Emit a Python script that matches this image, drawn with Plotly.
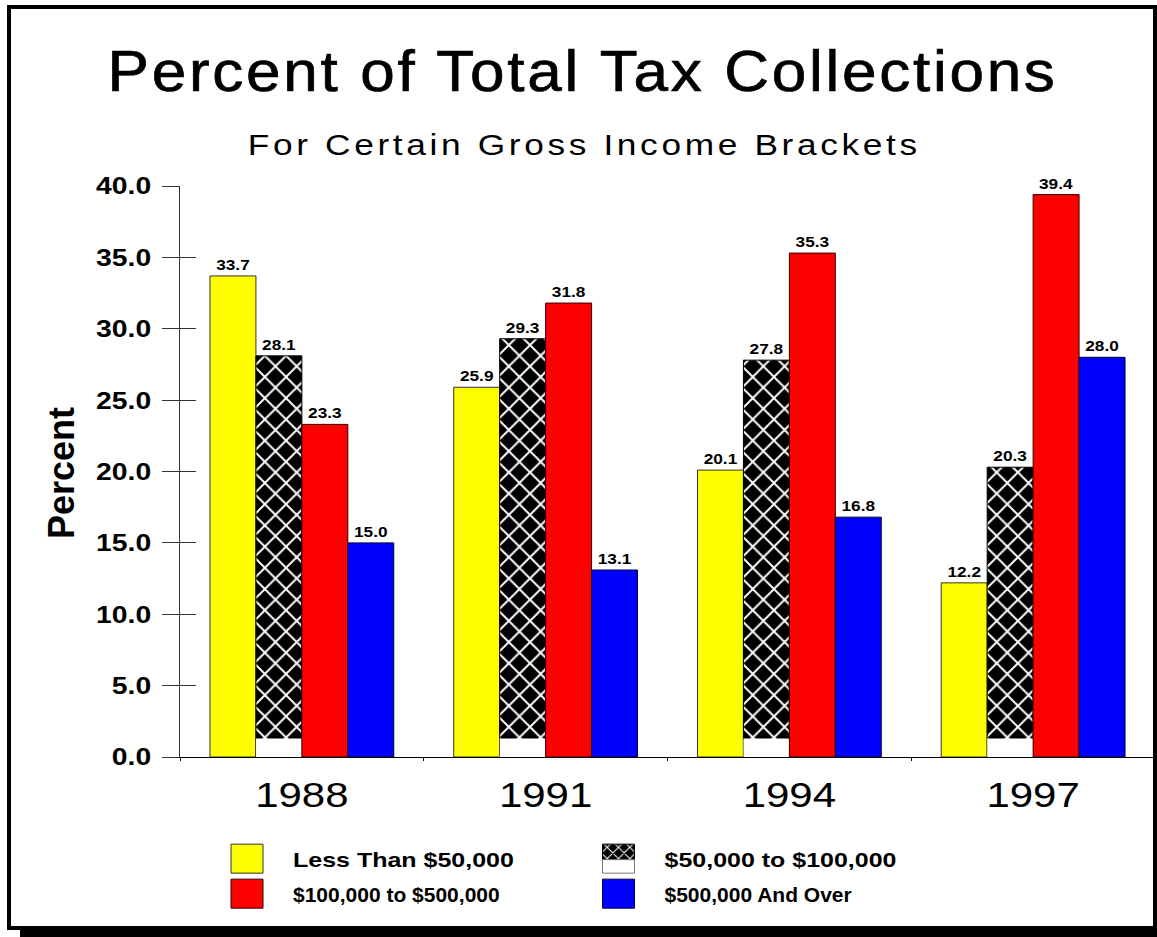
import plotly.graph_objects as go

# ---- data -------------------------------------------------------------
years = ["1988", "1991", "1994", "1997"]
less_than_50k = [33.7, 25.9, 20.1, 12.2]
from_50k_to_100k = [28.1, 29.3, 27.8, 20.3]
from_100k_to_500k = [23.3, 31.8, 35.3, 39.4]
over_500k = [15.0, 13.1, 16.8, 28.0]
hatch_base_gap = [1.3, 1.3, 1.3, 1.3]

series_names = [
    "Less Than $50,000",
    "$50,000 to $100,000",
    "$100,000 to $500,000",
    "$500,000 And Over",
]
y_ticks = [0, 5, 10, 15, 20, 25, 30, 35, 40]

# ---- geometry -----------------------------------------------------------
W, H = 1157, 937
ML, MR, MT, MB = 180, 2, 186, 180
PW, PH = W - ML - MR, H - MT - MB


def px(x):
    return (x - ML) / PW


def py(y):
    return (H - MB - y) / PH


FONT = "Liberation Sans, Arial, sans-serif"
group_width = 0.754
bw = group_width / 4
offsets = [-group_width / 2 + i * bw for i in range(4)]

LEG_ITEMWIDTH = 82
LEG_ENTRY = 371.5 - (LEG_ITEMWIDTH + 15)

fig = go.Figure()

bar_specs = [
    (less_than_50k, dict(color="#FFFF00", line=dict(color="#333333", width=1)), "legend"),
    (from_50k_to_100k, dict(color="black",
                            pattern=dict(shape="x", fgcolor="white", bgcolor="black",
                                         size=15, solidity=0.24, fillmode="replace"),
                            line=dict(color="black", width=1)), "legend"),
    (from_100k_to_500k, dict(color="#FF0000", line=dict(color="#330000", width=1)), "legend2"),
    (over_500k, dict(color="#0000FF", line=dict(color="#000033", width=1)), "legend2"),
]

for i, (vals, marker, lg) in enumerate(bar_specs):
    fig.add_trace(go.Bar(
        x=years, y=vals, name=series_names[i], marker=marker,
        width=bw, offset=offsets[i], legend=lg,
        text=[f"{v:.1f}" for v in vals], textposition="outside",
        textfont=dict(family=FONT, size=15, color="black", weight="bold"),
        cliponaxis=False, hoverinfo="skip",
    ))
    if i == 1:
        # white band at the foot of the hatched bars
        fig.add_trace(go.Bar(
            x=years, y=hatch_base_gap, width=bw, offset=offsets[i],
            marker=dict(color="white", line=dict(width=0)),
            showlegend=False, hoverinfo="skip",
        ))

legend_common = dict(
    orientation="h", xanchor="left", yanchor="middle",
    itemwidth=LEG_ITEMWIDTH, entrywidth=LEG_ENTRY,
    font=dict(family=FONT, size=21, color="black", weight="bold"),
    bgcolor="rgba(0,0,0,0)", borderwidth=0,
)

fig.update_layout(
    width=W, height=H,
    margin=dict(l=ML, r=MR, t=MT, b=MB),
    paper_bgcolor="white", plot_bgcolor="white",
    barmode="overlay",
    showlegend=True,
    font=dict(family=FONT, color="black"),
    xaxis=dict(
        type="category", range=[-0.5, 3.5],
        showline=True, linecolor="black", linewidth=1,
        ticks="outside", ticklen=3, tickcolor="black", tickson="boundaries",
        tickfont=dict(family=FONT, size=35, color="black"),
        ticklabelstandoff=7, showgrid=False, zeroline=False,
    ),
    yaxis=dict(
        range=[0, 40], tickvals=y_ticks, tickformat=".1f",
        showline=True, linecolor="#333333", linewidth=1,
        ticks="outside", ticklen=17, tickcolor="#333333",
        tickfont=dict(family=FONT, size=24, color="black", weight="bold"),
        ticklabelstandoff=6, showgrid=False, zeroline=False,
    ),
    yaxis2=dict(
        range=[0, 40], tickvals=y_ticks, overlaying="y", side="left",
        anchor="x", showticklabels=False, showline=False,
        ticks="inside", ticklen=16, tickcolor="#333333",
        showgrid=False, zeroline=False,
    ),
    legend=dict(x=px(201), y=py(859), **legend_common),
    legend2=dict(x=px(201), y=py(894), **legend_common),
)

# invisible trace so the second y axis is laid out
fig.add_trace(go.Scatter(x=[years[0]], y=[None], yaxis="y2", showlegend=False,
                         hoverinfo="skip", mode="markers"))

fig.add_annotation(text="Percent of Total Tax Collections", xref="paper", yref="paper",
                   x=px(582), y=py(70.5), xanchor="center", yanchor="middle",
                   showarrow=False, font=dict(family=FONT, size=57, color="black"))
fig.add_annotation(text="For Certain Gross Income Brackets", xref="paper", yref="paper",
                   x=px(584), y=py(145.5), xanchor="center", yanchor="middle",
                   showarrow=False, font=dict(family=FONT, size=29, color="black"))
fig.add_annotation(text="Percent", xref="paper", yref="paper", textangle=-90,
                   x=px(61), y=py(473), xanchor="center", yanchor="middle",
                   showarrow=False, font=dict(family=FONT, size=36, color="black", weight="bold"))

# page frame with drop shadow
fig.add_shape(type="rect", xref="paper", yref="paper",
              x0=px(20), x1=px(1170), y0=py(929), y1=py(945),
              fillcolor="black", line=dict(width=0), layer="above")
fig.add_shape(type="rect", xref="paper", yref="paper",
              x0=px(9), x1=px(1155), y0=py(7), y1=py(928),
              line=dict(color="black", width=4), fillcolor="rgba(0,0,0,0)", layer="above")

# Text in this chart style is set wide: stretch glyphs horizontally after render.
post = """
var gd = document.getElementById('{plot_id}');
function widen(el, f, ls) {
  if (ls) el.style.letterSpacing = ls;
  var n = el.getComputedTextLength();
  if (n > 0) {
    el.setAttribute('textLength', (n * f).toFixed(1));
    el.setAttribute('lengthAdjust', 'spacingAndGlyphs');
  }
}
function fit(el, len, ls) {
  if (ls) el.style.letterSpacing = ls;
  el.setAttribute('textLength', len);
  el.setAttribute('lengthAdjust', 'spacingAndGlyphs');
}
function each(sel, f, ls) { gd.querySelectorAll(sel).forEach(function (t) { widen(t, f, ls); }); }
each('.xtick text', 1.2);
each('.ytick text', 1.18);
each('.legendtext', 1.19);
each('.bartext', 1.15);
var ann = gd.querySelectorAll('.annotation-text');
if (ann[0]) { fit(ann[0], 950, '2.5px'); ann[0].style.stroke = 'black'; ann[0].style.strokeWidth = '0.7px'; }
if (ann[1]) fit(ann[1], 673, '3px');
gd.querySelectorAll('.legendpoints path').forEach(function (p) {
  p.setAttribute('d', 'M16,14.5H-16V-14.5H16Z');
});
var items = gd.querySelectorAll('g.legend g.traces');
if (items[1]) {
  var hp = items[1].querySelector('.legendpoints path');
  if (hp) {
    hp.setAttribute('d', 'M16,1H-16V-14.5H16Z');
    var w = document.createElementNS('http://www.w3.org/2000/svg', 'path');
    w.setAttribute('d', 'M16,14.5H-16V1H16Z');
    w.setAttribute('transform', hp.getAttribute('transform') || '');
    w.style.fill = 'white'; w.style.stroke = '#777777'; w.style.strokeWidth = '1px';
    hp.parentNode.appendChild(w);
  }
}
"""

fig.write_html("out.html", post_script=post, config={"displayModeBar": False})
